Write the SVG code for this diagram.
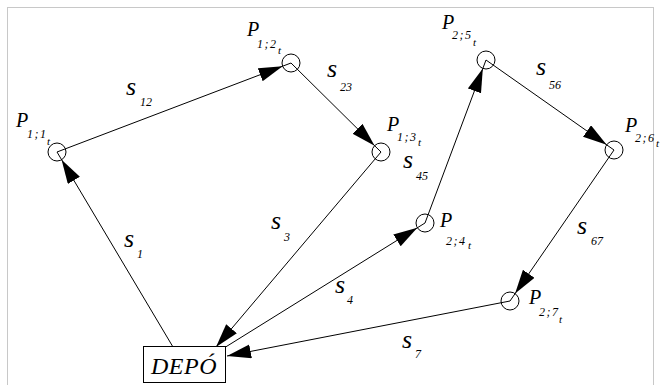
<svg xmlns="http://www.w3.org/2000/svg" width="661" height="385" viewBox="0 0 661 385">
<style>
.e{stroke:#000;stroke-width:1;fill:none}
.n{stroke:#000;stroke-width:1;fill:none}
.t{font-family:"Liberation Serif","Times New Roman",serif;font-style:italic;fill:#000}
.P{font-size:20px}
.sb{font-size:12px;letter-spacing:1.5px}
.tt{font-size:11px}
.s{font-size:26px}
.sn{font-size:12px}
</style>
<defs>
<marker id="ac" markerUnits="userSpaceOnUse" markerWidth="36" markerHeight="16" refX="33" refY="7" orient="auto">
<path d="M0,0 L24,7 L0,14 z" fill="#000"/>
</marker>
<marker id="ab" markerUnits="userSpaceOnUse" markerWidth="26" markerHeight="16" refX="24" refY="7" orient="auto">
<path d="M0,0 L24,7 L0,14 z" fill="#000"/>
</marker>
</defs>
<rect x="7.5" y="7.5" width="646" height="385" fill="#fff" stroke="#c8c8c8"/>
<g id="connectors">
<line class="e" x1="173" y1="347" x2="57" y2="152" marker-end="url(#ac)"/>
<line class="e" x1="57" y1="152" x2="291" y2="63" marker-end="url(#ac)"/>
<line class="e" x1="291" y1="63" x2="381" y2="152" marker-end="url(#ac)"/>
<line class="e" x1="381" y1="152" x2="216" y2="347" marker-end="url(#ab)"/>
<line class="e" x1="224" y1="348" x2="425" y2="223" marker-end="url(#ac)"/>
<line class="e" x1="425" y1="223" x2="486" y2="60" marker-end="url(#ac)"/>
<line class="e" x1="486" y1="60" x2="614" y2="150" marker-end="url(#ac)"/>
<line class="e" x1="614" y1="150" x2="510" y2="301" marker-end="url(#ac)"/>
<line class="e" x1="510" y1="301" x2="227" y2="356" marker-end="url(#ab)"/>
<text class="t s" x="124" y="247">s</text><text class="t sn" x="137" y="258">1</text>
<text class="t s" x="126" y="95">s</text><text class="t sn" x="140" y="106">12</text>
<text class="t s" x="327" y="77">s</text><text class="t sn" x="340" y="91">23</text>
<text class="t s" x="271" y="229">s</text><text class="t sn" x="284" y="241">3</text>
<text class="t s" x="335" y="293">s</text><text class="t sn" x="347" y="304">4</text>
<text class="t s" x="403" y="168">s</text><text class="t sn" x="416" y="180">45</text>
<text class="t s" x="536" y="75">s</text><text class="t sn" x="549" y="89">56</text>
<text class="t s" x="577" y="234">s</text><text class="t sn" x="591" y="245">67</text>
<text class="t s" x="402" y="348">s</text><text class="t sn" x="415" y="358">7</text>
</g>
<g id="depo">
<rect x="143.5" y="346.5" width="82" height="36" fill="#fff" stroke="#000"/>
<text class="t" x="184" y="374" font-size="24" letter-spacing="0.5" text-anchor="middle">DEPÓ</text>
</g>
<g id="p11">
<circle class="n" cx="57" cy="152" r="9"/>
<text class="t P" x="16" y="127">P</text><text class="t sb" x="27" y="138">1;1</text><text class="t tt" x="47" y="145">t</text>
</g>
<g id="p12">
<circle class="n" cx="291" cy="63" r="9"/>
<text class="t P" x="247" y="36">P</text><text class="t sb" x="257" y="48">1;2</text><text class="t tt" x="278" y="54">t</text>
</g>
<g id="p13">
<circle class="n" cx="381" cy="152" r="9"/>
<text class="t P" x="387" y="131">P</text><text class="t sb" x="397" y="141">1;3</text><text class="t tt" x="418" y="146">t</text>
</g>
<g id="p24">
<circle class="n" cx="425" cy="223" r="9"/>
<text class="t P" x="440" y="227">P</text><text class="t sb" x="446" y="245">2;4</text><text class="t tt" x="468" y="249">t</text>
</g>
<g id="p25">
<circle class="n" cx="486" cy="60" r="9"/>
<text class="t P" x="442" y="29">P</text><text class="t sb" x="452" y="39">2;5</text><text class="t tt" x="473" y="46">t</text>
</g>
<g id="p26">
<circle class="n" cx="614" cy="150" r="9"/>
<text class="t P" x="625" y="132">P</text><text class="t sb" x="635" y="142">2;6</text><text class="t tt" x="656" y="147">t</text>
</g>
<g id="p27">
<circle class="n" cx="510" cy="301" r="9"/>
<text class="t P" x="529" y="304">P</text><text class="t sb" x="539" y="316">2;7</text><text class="t tt" x="559" y="323">t</text>
</g>
</svg>
